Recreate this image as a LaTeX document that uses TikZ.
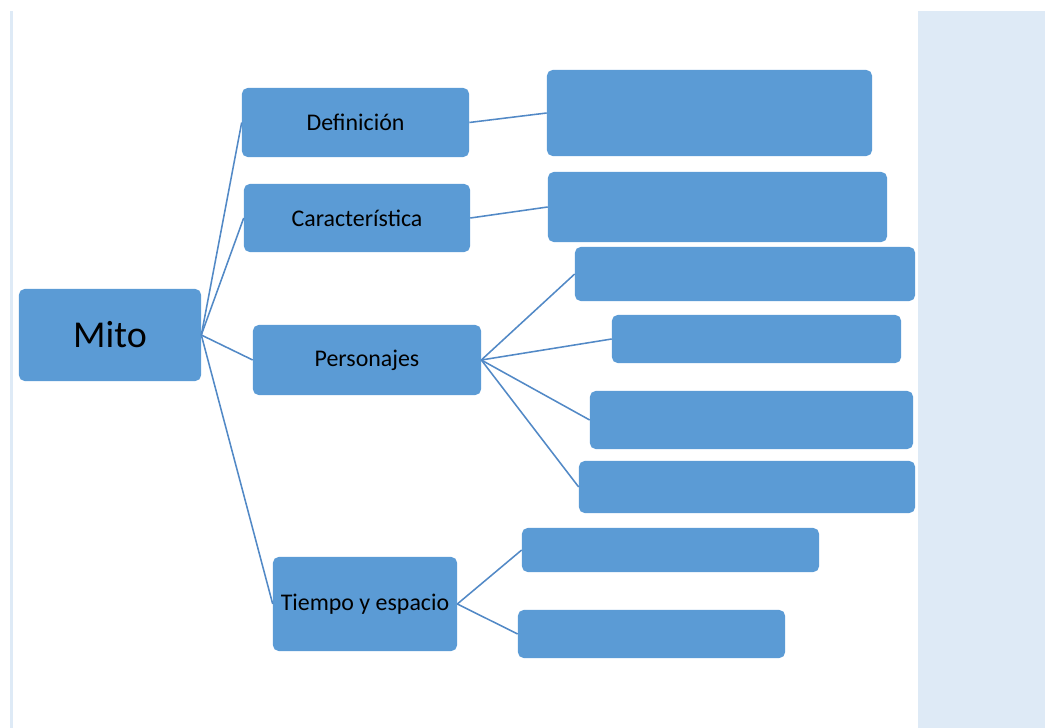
\documentclass[tikz,border=0pt]{standalone}
\usepackage{fontspec}
\setmainfont{Carlito}
\usepackage{xcolor}
\usetikzlibrary{positioning}
\definecolor{boxblue}{HTML}{5B9BD5}
\definecolor{lineblue}{HTML}{5289C6}
\definecolor{paleblue}{HTML}{DEEAF6}
\tikzset{
    blk/.style={fill=boxblue, rounded corners=4pt, inner sep=0pt, text=black, font=\fontsize{17}{20}\selectfont},
    conn/.style={draw=lineblue, line width=1.1pt},
    panel/.style={fill=paleblue, draw=none}
}

\begin{document}
\begin{tikzpicture}[x=0.025cm, y=-0.025cm]
    \useasboundingbox (0,0) rectangle (1045,728);
    % page edge and side panel
    \fill[paleblue] (10,11) rectangle (13,728);
    \fill[panel] (918,11) rectangle (1045,728);
    % main box
    \node[blk, minimum width=4.55cm, minimum height=2.3cm, font=\fontsize{27}{32}\selectfont] (mito) at (110,335) {Mito};
    % second level
    \node[blk, minimum width=5.675cm, minimum height=1.725cm] (def) at (355.5,122.5) {Definición};
    \node[blk, minimum width=5.65cm, minimum height=1.7cm] (car) at (357,218) {Característica};
    \node[blk, minimum width=5.7cm, minimum height=1.75cm] (pers) at (367,360) {Personajes};
    \node[blk, minimum width=4.6cm, minimum height=2.35cm] (tiempo) at (365,604) {Tiempo y espacio};
    % empty boxes
    \node[blk, minimum width=8.125cm, minimum height=2.15cm] (def1) at (709.5,113) {};
    \node[blk, minimum width=8.475cm, minimum height=1.75cm] (car1) at (717.5,207) {};
    \node[blk, minimum width=8.5cm, minimum height=1.35cm] (pers1) at (745,274) {};
    \node[blk, minimum width=7.225cm, minimum height=1.2cm] (pers2) at (756.5,339) {};
    \node[blk, minimum width=8.075cm, minimum height=1.45cm] (pers3) at (751.5,420) {};
    \node[blk, minimum width=8.4cm, minimum height=1.3cm] (pers4) at (747,487) {};
    \node[blk, minimum width=7.425cm, minimum height=1.1cm] (tiempo1) at (670.5,550) {};
    \node[blk, minimum width=6.675cm, minimum height=1.2cm] (tiempo2) at (651.5,634) {};
    % connectors
    \foreach \b in {def, car, pers, tiempo}
        \draw[conn] (mito.east) -- (\b.west);
    \draw[conn] (def.east) -- (def1.west);
    \draw[conn] (car.east) -- (car1.west);
    \foreach \b in {pers1, pers2, pers3, pers4}
        \draw[conn] (pers.east) -- (\b.west);
    \foreach \b in {tiempo1, tiempo2}
        \draw[conn] (tiempo.east) -- (\b.west);
\end{tikzpicture}
\end{document}
